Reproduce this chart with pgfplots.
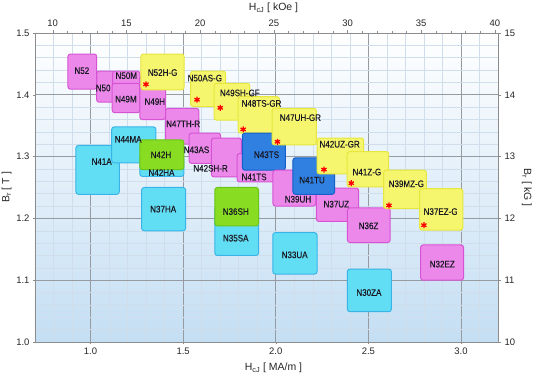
\documentclass[border=0pt]{standalone}
\usepackage{fontspec}
\setmainfont{Liberation Sans}
\newfontfamily\labfont[FakeStretch=0.85, FakeBold=0.4]{Liberation Sans}
\usepackage{pgfplots}
\pgfplotsset{compat=1.18}
\definecolor{pinkF}{RGB}{236,136,234}
\definecolor{pinkD}{RGB}{214,84,212}
\definecolor{yelF}{RGB}{246,246,110}
\definecolor{yelD}{RGB}{230,230,60}
\definecolor{cyaF}{RGB}{98,222,244}
\definecolor{cyaD}{RGB}{56,180,232}
\definecolor{grnF}{RGB}{136,220,34}
\definecolor{grnD}{RGB}{108,196,26}
\definecolor{bluF}{RGB}{48,128,226}
\definecolor{bluD}{RGB}{20,96,200}
\definecolor{gridmaj}{RGB}{150,155,162}
\definecolor{gridmin}{RGB}{208,222,236}
\definecolor{bgbot}{RGB}{196,222,243}
\definecolor{axcol}{RGB}{140,140,140}
\definecolor{labcol}{RGB}{25,25,35}
\pgfplotsset{
  pinkbox/.style={fill=pinkF, draw=pinkD, line width=1bp, rounded corners=2.5bp},
  yelbox/.style={fill=yelF, draw=yelD, line width=1bp, rounded corners=2.5bp},
  cyabox/.style={fill=cyaF, draw=cyaD, line width=1bp, rounded corners=2.5bp},
  grnbox/.style={fill=grnF, draw=grnD, line width=1bp, rounded corners=2.5bp},
  blubox/.style={fill=bluF, draw=bluD, line width=1bp, rounded corners=2.5bp},
}
% #1 style, #2 x1, #3 x2, #4 y bottom, #5 y top
\newcommand{\magbox}[5]{%
  \pgfmathsetmacro\xm{(#2+#3)/2}%
  \edef\tmp{\noexpand\addplot[#1] coordinates {(\xm,#4) (#3,#4) (#3,#5) (#2,#5) (#2,#4)} -- cycle;}%
  \tmp}
\tikzset{lab/.style={font=\labfont\fontsize{9.5}{10}\selectfont, text=labcol, inner sep=0pt}}
\begin{document}
\begin{tikzpicture}
\begin{axis}[
  name=main,
  scale only axis, width=463bp, height=309bp,
  xmin=0.7, xmax=3.2, ymin=1.0, ymax=1.5,
  xtick={0.5,1,1.5,2,2.5,3,3.5}, ytick={1,1.1,1.2,1.3,1.4,1.5},
  minor x tick num=4, minor y tick num=4,
  xtick pos=lower, ytick pos=left,
  grid=both,
  major grid style={gridmaj, line width=0.7bp},
  minor grid style={gridmin, line width=0.5bp},
  major tick length=2bp, minor tick length=0pt, tick align=outside,
  tick style={axcol},
  axis line style={axcol, line width=0.8bp},
  axis background/.style={top color=white, bottom color=bgbot},
  /pgf/number format/assume math mode=true,
  xticklabel style={/pgf/number format/.cd, fixed, fixed zerofill, precision=1},
  yticklabel style={/pgf/number format/.cd, fixed, fixed zerofill, precision=1},
  tick label style={font=\fontsize{9.5}{10}\selectfont, text=black!85},
  label style={font=\fontsize{10.5}{12}\selectfont, text=black!85},
  xlabel={H\textsubscript{cJ} [ MA/m ]},
  ylabel={B\textsubscript{r} [ T ]},
  xlabel style={yshift=-2bp, xshift=7bp},
  ylabel style={yshift=-2bp},
  clip=false,
]
\magbox{pinkbox}{1.033}{1.131}{1.388}{1.4385}
\magbox{pinkbox}{1.119}{1.266}{1.395}{1.4385}
\magbox{pinkbox}{0.878}{1.033}{1.409}{1.466}
\magbox{pinkbox}{1.117}{1.266}{1.371}{1.4186}
\magbox{pinkbox}{1.266}{1.405}{1.360}{1.430}
\magbox{yelbox}{1.272}{1.505}{1.408}{1.466}
\magbox{yelbox}{1.540}{1.729}{1.381}{1.4385}
\magbox{yelbox}{1.667}{1.860}{1.359}{1.4186}
\magbox{pinkbox}{1.405}{1.585}{1.320}{1.378}
\magbox{pinkbox}{1.532}{1.702}{1.289}{1.338}
\magbox{pinkbox}{1.653}{1.815}{1.267}{1.330}
\magbox{yelbox}{1.797}{2.020}{1.338}{1.397}
\magbox{pinkbox}{1.791}{2.004}{1.259}{1.305}
\magbox{blubox}{1.820}{2.052}{1.278}{1.338}
\magbox{yelbox}{1.980}{2.219}{1.319}{1.378}
\magbox{pinkbox}{1.985}{2.216}{1.220}{1.278}
\magbox{pinkbox}{2.219}{2.448}{1.195}{1.249}
\magbox{blubox}{2.093}{2.318}{1.239}{1.298}
\magbox{yelbox}{2.223}{2.475}{1.272}{1.330}
\magbox{pinkbox}{2.387}{2.618}{1.161}{1.217}
\magbox{yelbox}{2.385}{2.610}{1.251}{1.308}
\magbox{yelbox}{2.582}{2.813}{1.216}{1.278}
\magbox{yelbox}{2.777}{3.010}{1.181}{1.248}
\magbox{pinkbox}{2.782}{3.014}{1.100}{1.157}
\magbox{cyabox}{2.387}{2.624}{1.049}{1.118}
\magbox{cyabox}{1.984}{2.223}{1.110}{1.177}
\magbox{cyabox}{0.921}{1.155}{1.239}{1.318}
\magbox{cyabox}{1.114}{1.353}{1.290}{1.348}
\magbox{cyabox}{1.266}{1.504}{1.268}{1.300}
\magbox{grnbox}{1.266}{1.504}{1.279}{1.327}
\magbox{cyabox}{1.276}{1.513}{1.180}{1.250}
\magbox{cyabox}{1.671}{1.907}{1.140}{1.220}
\magbox{grnbox}{1.671}{1.907}{1.188}{1.250}
\addplot[only marks, mark=asterisk, mark size=3bp, color=red, line width=1.3bp] coordinates {
 (1.299,1.417) (1.575,1.392) (1.700,1.379) (1.824,1.344) (2.009,1.324)
 (2.260,1.279) (2.408,1.257) (2.611,1.221) (2.800,1.189)};
\node[lab] at (axis cs:0.953,1.439) {N52};
\node[lab] at (axis cs:1.068,1.411) {N50};
\node[lab] at (axis cs:1.193,1.431) {N50M};
\node[lab] at (axis cs:1.191,1.393) {N49M};
\node[lab] at (axis cs:1.347,1.389) {N49H};
\node[lab] at (axis cs:1.389,1.436) {N52H-G};
\node[lab] at (axis cs:1.617,1.427) {N50AS-G};
\node[lab] at (axis cs:1.806,1.403) {N49SH-GF};
\node[lab] at (axis cs:1.923,1.386) {N48TS-GR};
\node[lab] at (axis cs:2.133,1.363) {N47UH-GR};
\node[lab] at (axis cs:1.500,1.353) {N47TH-R};
\node[lab] at (axis cs:1.572,1.311) {N43AS};
\node[lab] at (axis cs:1.648,1.281) {N42SH-R};
\node[lab] at (axis cs:1.950,1.303) {N43TS};
\node[lab] at (axis cs:1.883,1.267) {N41TS};
\node[lab] at (axis cs:2.345,1.320) {N42UZ-GR};
\node[lab] at (axis cs:2.196,1.262) {N41TU};
\node[lab] at (axis cs:2.120,1.231) {N39UH};
\node[lab] at (axis cs:2.492,1.275) {N41Z-G};
\node[lab] at (axis cs:2.705,1.256) {N39MZ-G};
\node[lab] at (axis cs:2.327,1.223) {N37UZ};
\node[lab] at (axis cs:2.890,1.211) {N37EZ-G};
\node[lab] at (axis cs:2.501,1.188) {N36Z};
\node[lab] at (axis cs:2.899,1.126) {N32EZ};
\node[lab] at (axis cs:2.503,1.080) {N30ZA};
\node[lab] at (axis cs:2.102,1.141) {N33UA};
\node[lab] at (axis cs:1.060,1.292) {N41A};
\node[lab] at (axis cs:1.203,1.328) {N44MA};
\node[lab] at (axis cs:1.380,1.303) {N42H};
\node[lab] at (axis cs:1.383,1.274) {N42HA};
\node[lab] at (axis cs:1.392,1.215) {N37HA};
\node[lab] at (axis cs:1.784,1.211) {N36SH};
\node[lab] at (axis cs:1.784,1.168) {N35SA};
\end{axis}
\begin{axis}[
  scale only axis, width=463bp, height=309bp,
  xmin=8.796, xmax=40.21, ymin=10, ymax=15,
  axis x line*=top, axis y line*=right,
  xtick={10,15,20,25,30,35,40}, minor x tick num=4,
  ytick={10,11,12,13,14,15},
  major tick length=3bp, minor tick length=2bp, tick align=outside,
  tick style={axcol},
  axis line style={axcol, line width=0.8bp},
  /pgf/number format/assume math mode=true,
  tick label style={font=\fontsize{9.5}{10}\selectfont, text=black!85},
  label style={font=\fontsize{10.5}{12}\selectfont, text=black!85},
  xlabel={H\textsubscript{cJ} [ kOe ]},
  ylabel={B\textsubscript{r} [ kG ]},
  xlabel style={xshift=7bp},
  ylabel style={rotate=180},
]
\end{axis}
\pgfresetboundingbox
\path[use as bounding box] (-35bp,-32bp) rectangle (500bp,342bp);
\end{tikzpicture}
\end{document}
